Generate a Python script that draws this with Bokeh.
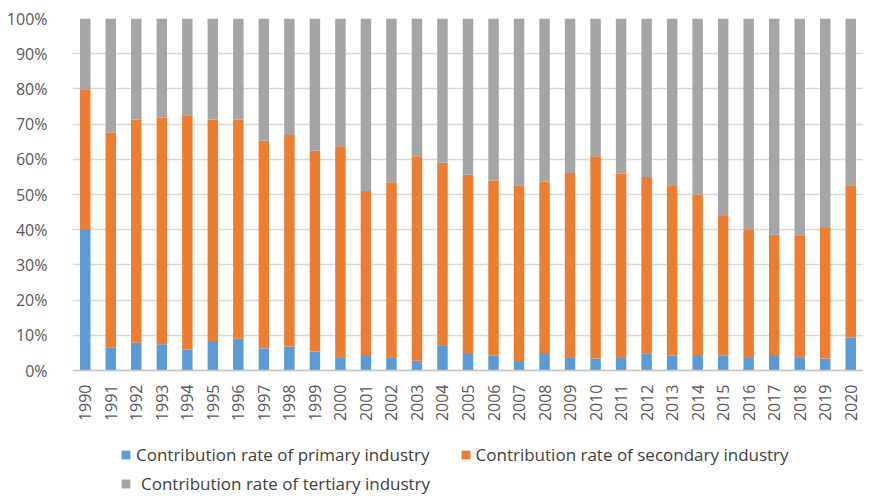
from bokeh.plotting import figure
from bokeh.models import (FactorRange, FixedTicker, NumeralTickFormatter, Legend, LegendItem,
                          ColumnDataSource, Span)
from bokeh.core.properties import value
from bokeh.embed import file_html
from bokeh.resources import INLINE
import math

years = [str(y) for y in range(1990, 2021)]
# shares in percent (primary, cumulative top of secondary)
primary = [40.2, 6.5, 7.9, 7.5, 6.0, 8.4, 9.0, 6.3, 6.8, 5.4, 3.8,
           4.4, 3.8, 2.8, 7.2, 5.0, 4.2, 2.7, 5.0, 3.8, 3.4,
           3.8, 4.8, 4.2, 4.4, 4.2, 3.8, 4.4, 3.8, 3.4, 9.4]
primary_plus_secondary = [79.9, 67.6, 71.3, 71.9, 72.5, 71.3, 71.3, 65.3, 66.9, 62.4, 63.7,
                          51.0, 53.5, 60.9, 59.0, 55.6, 54.0, 52.6, 53.7, 56.1, 60.9,
                          55.9, 55.0, 52.6, 50.0, 43.9, 39.9, 38.6, 38.4, 40.5, 52.6]
secondary = [round(t - p, 1) for t, p in zip(primary_plus_secondary, primary)]
tertiary = [round(100 - t, 1) for t in primary_plus_secondary]

y_ticks = [i / 10 for i in range(11)]
series_names = ["Contribution rate of primary industry",
                "Contribution rate of secondary industry",
                "Contribution rate of tertiary industry"]
colors = ["#5B9BD5", "#ED7D31", "#A5A5A5"]

src = ColumnDataSource(dict(
    year=years,
    primary=[v / 100 for v in primary],
    secondary=[v / 100 for v in secondary],
    tertiary=[v / 100 for v in tertiary],
    zero=[0.0] * len(years),
))

# frame extends below zero to leave room for the year labels and the legend
p = figure(width=863, height=495, x_range=FactorRange(*years, range_padding=0),
           y_range=(-0.355, 1.0), output_backend="svg", toolbar_location=None,
           min_border_left=72, min_border_right=0, min_border_top=18, min_border_bottom=0)
p.outline_line_color = None

rs = p.vbar_stack(["primary", "secondary", "tertiary"], x="year", width=0.41,
                  color=colors, source=src, line_color=None)

p.yaxis.ticker = FixedTicker(ticks=y_ticks)
p.yaxis.formatter = NumeralTickFormatter(format="0%")
p.yaxis.axis_line_color = None
p.yaxis.major_tick_line_color = None
p.yaxis.minor_tick_line_color = None
p.yaxis.major_label_text_font = "Open Sans"
p.yaxis.major_label_text_font_size = "16px"
p.yaxis.major_label_text_color = "#595959"
p.yaxis.major_label_standoff = 19

p.xaxis.visible = False
p.xgrid.grid_line_color = None
p.ygrid.grid_line_color = "#D9D9D9"
p.ygrid.grid_line_width = 1.5

p.add_layout(Span(location=0, dimension="width", line_color="#C8C8C8", line_width=1.5))

# year labels (category axis), vertical
p.text(x="year", y="zero", text="year", source=src, angle=math.pi / 2,
       text_align="right", text_baseline="middle", y_offset=14,
       text_font=value("Open Sans"), text_font_size="16px", text_color="#595959")

def make_legend(items, loc, standoff):
    return Legend(items=items, location=loc, orientation="horizontal",
                  label_text_font="Open Sans", label_text_font_size="17px",
                  label_text_color="#404040", glyph_width=11, glyph_height=11,
                  label_standoff=standoff, spacing=30, padding=0, margin=0,
                  border_line_color=None, background_fill_alpha=0)

lg1 = make_legend([LegendItem(label=series_names[0], renderers=[rs[0]]),
                   LegendItem(label=series_names[1], renderers=[rs[1]])], (48, 29), 5)
lg2 = make_legend([LegendItem(label=series_names[2], renderers=[rs[2]])], (48, 0), 10)
p.add_layout(lg1, "center")
p.add_layout(lg2, "center")

open("out.html", "w").write(file_html(p, INLINE))
